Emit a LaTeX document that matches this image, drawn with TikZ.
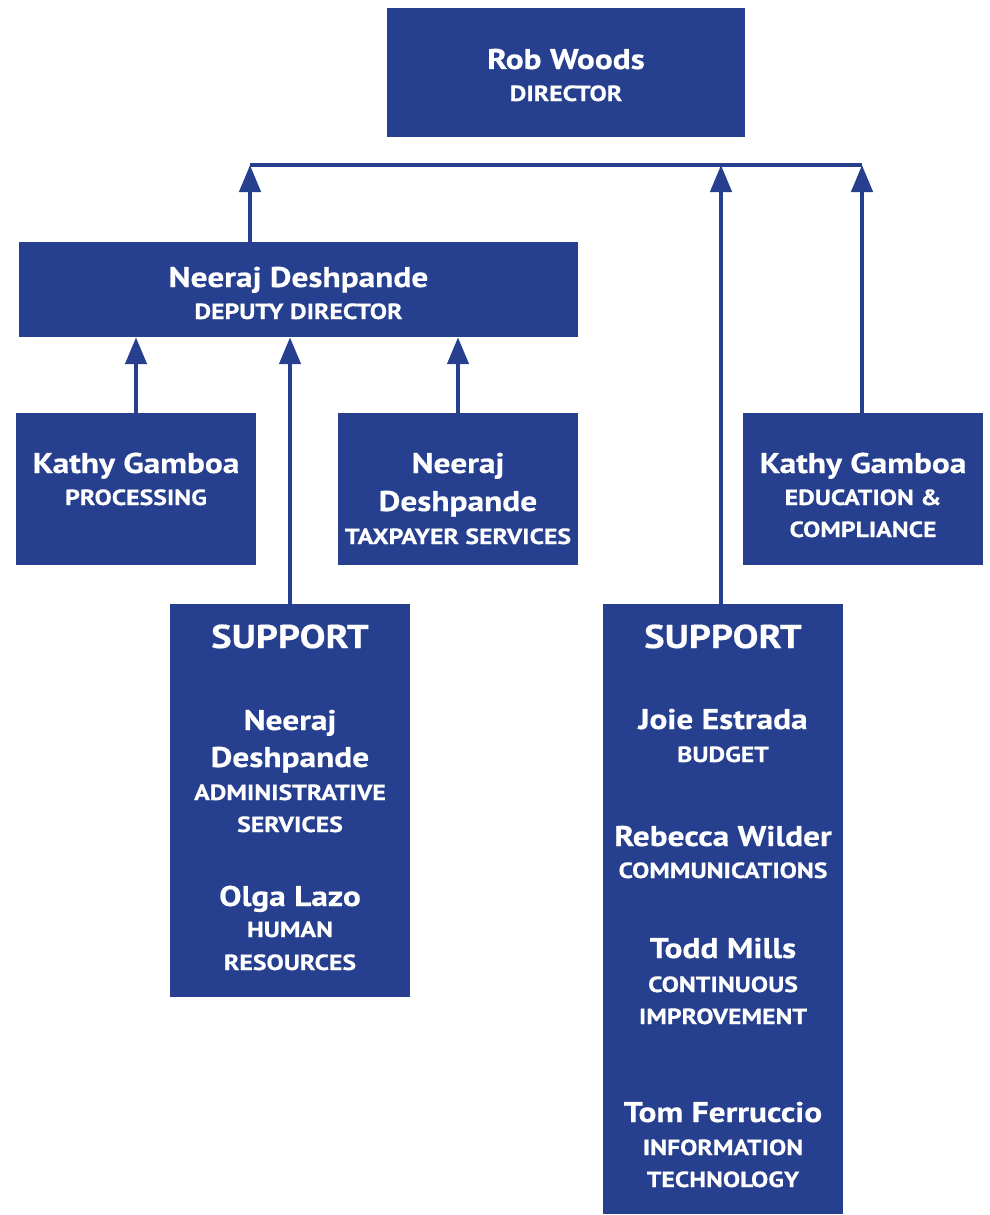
\documentclass[tikz,border=0pt]{standalone}
\usepackage{fontspec}
\setmainfont{PT Sans}[FakeStretch=1.17,BoldFeatures={FakeBold=0.5}]
\usepackage{tikz}
\usetikzlibrary{arrows.meta}

\definecolor{dorblue}{RGB}{38,63,142}

\begin{document}
\begin{tikzpicture}[x=1pt,y=-1pt]
  \tikzset{Unit/.style={fill=dorblue,draw=none,inner sep=0pt},
           PersonStyle/.style={text=white,anchor=base,inner sep=0pt,
                               font=\fontsize{28.5}{34}\selectfont\bfseries},
           RoleStyle/.style={text=white,anchor=base,inner sep=0pt,
                             font=\fontsize{22}{26}\selectfont\bfseries},
           GroupStyle/.style={text=white,anchor=base,inner sep=0pt,
                              font=\fontsize{33}{40}\selectfont\bfseries},
           EdgeStyle/.style={draw=dorblue,line width=4.5pt,
                             -{Triangle[width=21pt,length=27pt]}}}
  \useasboundingbox (0,0) rectangle (989,1215);
  % boxes
  \node[Unit,minimum width=358pt,minimum height=129pt] (dir)  at (566,72.5)   {};
  \node[Unit,minimum width=559pt,minimum height=95pt]  (dep)  at (298.5,289.5) {};
  \node[Unit,minimum width=240pt,minimum height=152pt] (proc) at (136,489)    {};
  \node[Unit,minimum width=240pt,minimum height=152pt] (tax)  at (458,489)    {};
  \node[Unit,minimum width=240pt,minimum height=152pt] (edu)  at (863,489)    {};
  \node[Unit,minimum width=240pt,minimum height=393pt] (supL) at (290,800.5)  {};
  \node[Unit,minimum width=240pt,minimum height=610pt] (supR) at (723,909)    {};
  % texts
  \node[PersonStyle] (dirN)  at (566,69)  {Rob Woods};
  \node[RoleStyle]   (dirR)  at (566,101) {DIRECTOR};
  \node[PersonStyle] (depN)  at (298.5,287) {Neeraj Deshpande};
  \node[RoleStyle]   (depR)  at (298.5,319) {DEPUTY DIRECTOR};
  \node[PersonStyle] (procN) at (136,473) {Kathy Gamboa};
  \node[RoleStyle]   (procR) at (136,505) {PROCESSING};
  \node[PersonStyle] (taxN)  at (458,473) {Neeraj};
  \node[PersonStyle] (taxM)  at (458,511) {Deshpande};
  \node[RoleStyle]   (taxR)  at (458,544) {TAXPAYER SERVICES};
  \node[PersonStyle] (eduN)  at (863,473) {Kathy Gamboa};
  \node[RoleStyle]   (eduR)  at (863,505) {EDUCATION \&};
  \node[RoleStyle]   (eduS)  at (863,537) {COMPLIANCE};
  \node[GroupStyle]  (supLG) at (290,648) {SUPPORT};
  \node[PersonStyle] (admN)  at (290,730) {Neeraj};
  \node[PersonStyle] (admM)  at (290,767) {Deshpande};
  \node[RoleStyle]   (admR)  at (290,800) {ADMINISTRATIVE};
  \node[RoleStyle]   (admS)  at (290,832) {SERVICES};
  \node[PersonStyle] (hrN)   at (290,906) {Olga Lazo};
  \node[RoleStyle]   (hrR)   at (290,937) {HUMAN};
  \node[RoleStyle]   (hrS)   at (290,970) {RESOURCES};
  \node[GroupStyle]  (supRG) at (723,648) {SUPPORT};
  \node[PersonStyle] (budN)  at (723,729) {Joie Estrada};
  \node[RoleStyle]   (budR)  at (723,762) {BUDGET};
  \node[PersonStyle] (comN)  at (723,846) {Rebecca Wilder};
  \node[RoleStyle]   (comR)  at (723,878) {COMMUNICATIONS};
  \node[PersonStyle] (ciN)   at (723,958) {Todd Mills};
  \node[RoleStyle]   (ciR)   at (723,992) {CONTINUOUS};
  \node[RoleStyle]   (ciS)   at (723,1024) {IMPROVEMENT};
  \node[PersonStyle] (itN)   at (723,1122) {Tom Ferruccio};
  \node[RoleStyle]   (itR)   at (723,1155) {INFORMATION};
  \node[RoleStyle]   (itS)   at (723,1187) {TECHNOLOGY};
  % connectors
  \coordinate (busL) at (250,165);
  \coordinate (busM) at (721,165);
  \coordinate (busR) at (862,165);
  \draw[draw=dorblue,line width=4.5pt] (busL) -- (busR);
  \draw[EdgeStyle] (dep.north -| busL) -- (busL);
  \draw[EdgeStyle] (supR.north -| busM) -- (busM);
  \draw[EdgeStyle] (edu.north -| busR) -- (busR);
  \draw[EdgeStyle] (proc.north) -- (proc.north |- dep.south);
  \draw[EdgeStyle] (supL.north) -- (supL.north |- dep.south);
  \draw[EdgeStyle] (tax.north) -- (tax.north |- dep.south);
\end{tikzpicture}
\end{document}
